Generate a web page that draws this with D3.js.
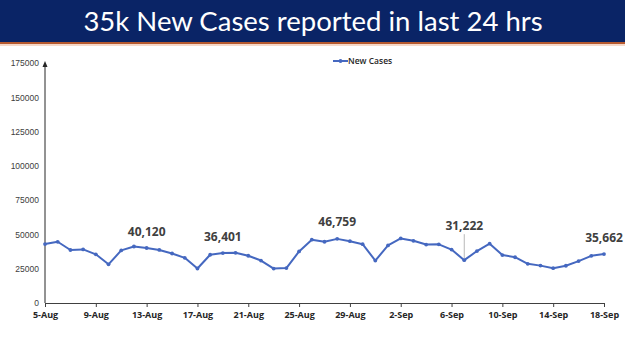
<!DOCTYPE html>
<html><head><meta charset="utf-8">
<script src="https://cdn.jsdelivr.net/npm/d3@7"></script>
<style>
html,body{margin:0;padding:0;background:#fff;}
svg{display:block;}
</style></head>
<body>
<svg id="chart" width="625" height="351"></svg>
<script>
const title = "35k New Cases reported in last 24 hrs";
const seriesName = "New Cases";
const dates = ["5-Aug","6-Aug","7-Aug","8-Aug","9-Aug","10-Aug","11-Aug","12-Aug","13-Aug","14-Aug","15-Aug","16-Aug","17-Aug","18-Aug","19-Aug","20-Aug","21-Aug","22-Aug","23-Aug","24-Aug","25-Aug","26-Aug","27-Aug","28-Aug","29-Aug","30-Aug","31-Aug","1-Sep","2-Sep","3-Sep","4-Sep","5-Sep","6-Sep","7-Sep","8-Sep","9-Sep","10-Sep","11-Sep","12-Sep","13-Sep","14-Sep","15-Sep","16-Sep","17-Sep","18-Sep"];
const newCases = [42982,44643,38628,39070,35499,28204,38353,41195,40120,38667,36083,32937,25166,35178,36401,36571,34457,30948,25072,25467,37593,46164,44658,46759,45083,42909,30941,41965,47092,45352,42618,42766,38948,31222,37875,43263,34973,33376,28591,27254,25404,27176,30570,34403,35662];
const xTickLabels = ["5-Aug","9-Aug","13-Aug","17-Aug","21-Aug","25-Aug","29-Aug","2-Sep","6-Sep","10-Sep","14-Sep","18-Sep"];
const yTicks = [0,25000,50000,75000,100000,125000,150000,175000];
const annotated = [
  {date:"13-Aug", label:"40,120", dy:-12, leader:false},
  {date:"19-Aug", label:"36,401", dy:-12, leader:false},
  {date:"28-Aug", label:"46,759", dy:-13, leader:false},
  {date:"7-Sep", label:"31,222", dy:-30, leader:true},
  {date:"18-Sep", label:"35,662", dy:-12, leader:false}
];

const svg = d3.select("#chart");
const W = 625, H = 351;
const blue = "#4568c0";

// Title banner
svg.append("rect").attr("x",0).attr("y",0).attr("width",W).attr("height",42).attr("fill","#0a2466");
svg.append("rect").attr("x",0).attr("y",42).attr("width",W).attr("height",2).attr("fill","#b5592f");
svg.append("rect").attr("x",0).attr("y",44).attr("width",W).attr("height",2).attr("fill","#f6d8c8");
svg.append("text").attr("x",313).attr("y",31).attr("text-anchor","middle")
  .attr("fill","#ffffff").attr("font-family","Lato, 'Open Sans', sans-serif")
  .attr("font-size",27.5).text(title);

const x = d3.scalePoint().domain(dates).range([45,604]);
const y = d3.scaleLinear().domain([0,175000]).range([303,63]);

// Y axis
const yAxis = d3.axisLeft(y).tickValues(yTicks).tickSize(0).tickPadding(6).tickFormat(d3.format("d"));
const gy = svg.append("g").attr("transform","translate(45,0)").call(yAxis);
gy.select(".domain").attr("stroke","#262626").attr("stroke-width",1).attr("d","M0,303V64");
gy.selectAll("text").attr("font-family","'Liberation Sans', Arial, sans-serif").attr("font-size",8.5).attr("fill","#404040");
svg.append("path").attr("d","M45,61 L42.5,67 L47.5,67 Z").attr("fill","#262626");

// X axis
const xAxis = d3.axisBottom(x).tickValues(xTickLabels).tickSize(4).tickSizeOuter(0).tickPadding(5);
const gx = svg.append("g").attr("transform","translate(0,303)").call(xAxis);
gx.select(".domain").attr("stroke","#404040").attr("stroke-width",1.2);
gx.selectAll(".tick line").attr("stroke","#404040");
gx.selectAll("text").attr("font-family","'Open Sans', sans-serif").attr("font-weight","bold").attr("font-size",9).attr("fill","#262626");

// Line
const line = d3.line().x((d,i)=>x(dates[i])).y(d=>y(d));
svg.append("path").datum(newCases).attr("d",line).attr("fill","none").attr("stroke",blue).attr("stroke-width",2).attr("stroke-linejoin","round");
svg.append("g").selectAll("circle").data(newCases).join("circle")
  .attr("cx",(d,i)=>x(dates[i])).attr("cy",d=>y(d)).attr("r",1.9).attr("fill",blue);

// Annotations
annotated.forEach(a=>{
  const i = dates.indexOf(a.date);
  const px = x(a.date), py = y(newCases[i]);
  if(a.leader){
    svg.append("line").attr("x1",px).attr("x2",px).attr("y1",py+a.dy+4).attr("y2",py-2)
      .attr("stroke","#a6a6a6").attr("stroke-width",0.8);
  }
  svg.append("text").attr("x",px).attr("y",py+a.dy).attr("text-anchor","middle")
    .attr("font-family","'Open Sans', sans-serif").attr("font-weight","bold").attr("font-size",12)
    .attr("fill","#404040").text(a.label);
});

// Legend
svg.append("line").attr("x1",333).attr("x2",348).attr("y1",61).attr("y2",61).attr("stroke",blue).attr("stroke-width",2);
svg.append("circle").attr("cx",340.5).attr("cy",61).attr("r",1.9).attr("fill",blue);
svg.append("text").attr("x",348).attr("y",64).attr("font-family","'Open Sans', sans-serif").attr("font-weight","600").attr("font-size",8.5).attr("fill","#262626").text(seriesName);
</script>
</body></html>
